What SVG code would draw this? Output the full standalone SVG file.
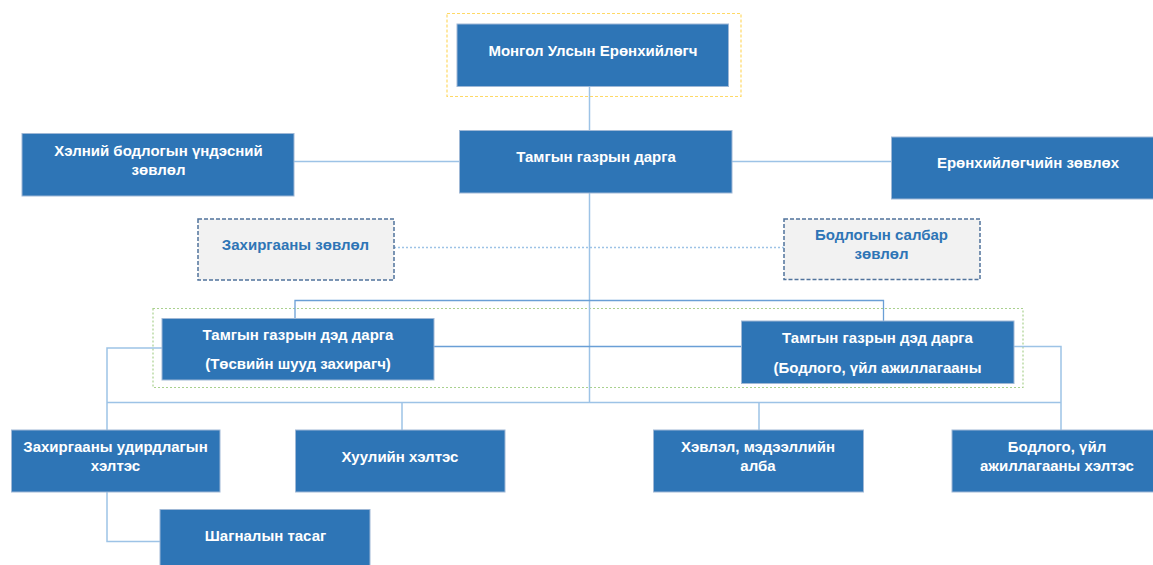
<svg xmlns="http://www.w3.org/2000/svg" width="1153" height="565" viewBox="0 0 1153 565">
<style>
.box{fill:#2e75b6;stroke:#9fb8d6;stroke-width:1}
.gbox{fill:#f2f2f2;stroke:#50739c;stroke-width:1.5;stroke-dasharray:4 2}
.t{font-family:"Liberation Sans",Arial,sans-serif;font-weight:bold;font-size:15px;fill:#ffffff;text-anchor:middle}
.tb{fill:#2e75b6}
.c{fill:none;stroke:#9dc3e6;stroke-width:1.5}
.cd{fill:none;stroke:#6a9fd6;stroke-width:1.3}
.dot{fill:none;stroke:#9dc3e6;stroke-width:1.5;stroke-dasharray:2 2}
</style>
<rect width="1153" height="565" fill="#ffffff"/>
<rect x="447" y="13.5" width="294" height="83" fill="none" stroke="#ffd966" stroke-width="1.2" stroke-dasharray="3 2"/>
<rect x="153" y="308.5" width="870" height="79" fill="none" stroke="#a9d18e" stroke-width="1.2" stroke-dasharray="2 2"/>
<g id="connectors">
<line class="c" x1="589.5" y1="86" x2="589.5" y2="131"/>
<line class="c" x1="294" y1="161.5" x2="460" y2="161.5"/>
<line class="c" x1="732" y1="161.5" x2="892" y2="161.5"/>
<line class="c" x1="589.5" y1="193" x2="589.5" y2="402.5"/>
<line class="dot" x1="394" y1="247.5" x2="784" y2="247.5"/>
<polyline class="cd" points="295,319 295,300.5 883.5,300.5 883.5,321"/>
<line class="cd" x1="434" y1="346.5" x2="741" y2="346.5"/>
<polyline class="c" points="162,348 107,348 107,430"/>
<line class="c" x1="107" y1="402.5" x2="1061" y2="402.5"/>
<line class="c" x1="402" y1="402.5" x2="402" y2="430"/>
<line class="c" x1="759" y1="402.5" x2="759" y2="430"/>
<polyline class="c" points="1014,346.5 1061,346.5 1061,430"/>
<polyline class="c" points="107,492 107,541.5 160,541.5"/>
</g>
<g id="president">
<rect class="box" x="457" y="24" width="271.5" height="62.5"/>
<text class="t" x="593" y="55.5">Монгол Улсын Ерөнхийлөгч</text>
</g>
<g id="chief">
<rect class="box" x="459.5" y="130.5" width="272.5" height="62.5"/>
<text class="t" x="596" y="161.5">Тамгын газрын дарга</text>
</g>
<g id="language-council">
<rect class="box" x="22" y="133.5" width="272" height="62.5"/>
<text class="t" x="158.5" y="155.5">Хэлний бодлогын үндэсний</text>
<text class="t" x="158.5" y="174.5">зөвлөл</text>
</g>
<g id="advisor">
<rect class="box" x="891.5" y="137" width="265" height="62"/>
<text class="t" x="1028" y="168">Ерөнхийлөгчийн зөвлөх</text>
</g>
<g id="admin-council">
<rect class="gbox" x="198" y="219" width="196" height="61"/>
<text class="t tb" x="295.5" y="249.5">Захиргааны зөвлөл</text>
</g>
<g id="policy-council">
<rect class="gbox" x="784" y="219" width="196" height="60.5"/>
<text class="t tb" x="881.5" y="240">Бодлогын салбар</text>
<text class="t tb" x="881.5" y="259">зөвлөл</text>
</g>
<g id="deputy-budget">
<rect class="box" x="162" y="318.5" width="272" height="61.5"/>
<text class="t" x="298" y="339.5">Тамгын газрын дэд дарга</text>
<text class="t" x="298" y="369">(Төсвийн шууд захирагч)</text>
</g>
<g id="deputy-policy">
<rect class="box" x="741.5" y="321" width="272.5" height="62.5"/>
<text class="t" x="877.5" y="342.5">Тамгын газрын дэд дарга</text>
<text class="t" x="877.5" y="372.5">(Бодлого, үйл ажиллагааны</text>
</g>
<g id="admin-dept">
<rect class="box" x="11.5" y="430" width="208.5" height="62"/>
<text class="t" x="115.5" y="452">Захиргааны удирдлагын</text>
<text class="t" x="115.5" y="470.5">хэлтэс</text>
</g>
<g id="legal-dept">
<rect class="box" x="295.5" y="430" width="209.5" height="62"/>
<text class="t" x="400" y="461.5">Хуулийн хэлтэс</text>
</g>
<g id="press-unit">
<rect class="box" x="653.5" y="430" width="210" height="62"/>
<text class="t" x="758" y="452">Хэвлэл, мэдээллийн</text>
<text class="t" x="758" y="470.5">алба</text>
</g>
<g id="policy-dept">
<rect class="box" x="952" y="430" width="204" height="62"/>
<text class="t" x="1057" y="452">Бодлого, үйл</text>
<text class="t" x="1057" y="470.5">ажиллагааны хэлтэс</text>
</g>
<g id="award-section">
<rect class="box" x="160" y="509.5" width="210" height="62"/>
<text class="t" x="265.5" y="541">Шагналын тасаг</text>
</g>
</svg>
